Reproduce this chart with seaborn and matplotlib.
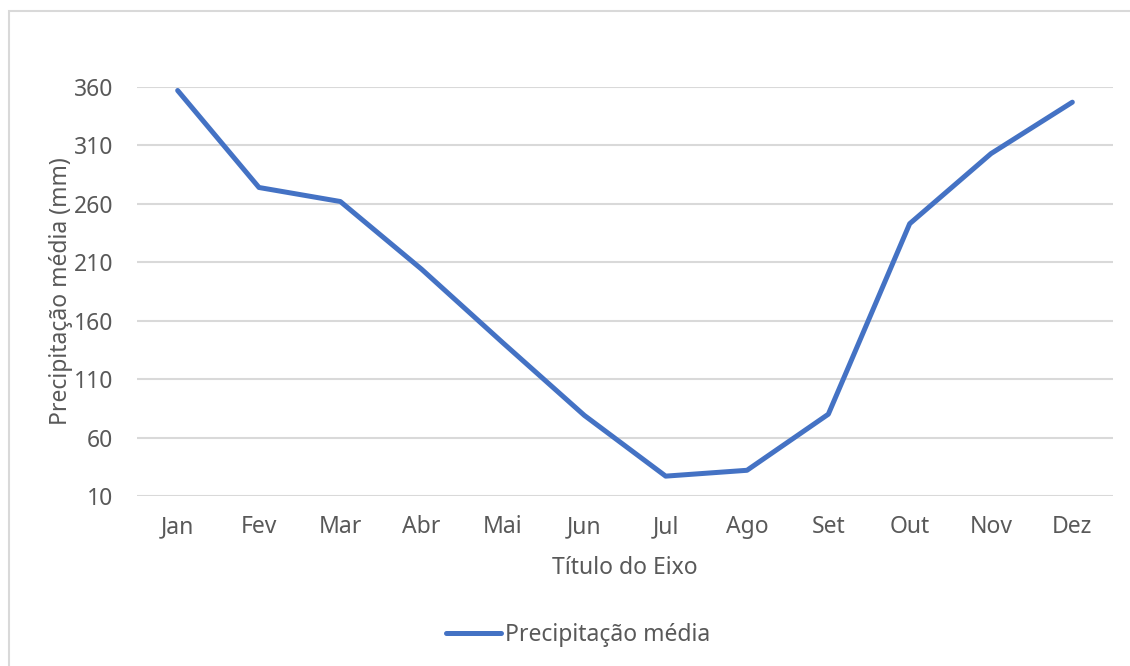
import matplotlib
matplotlib.use("Agg")
import matplotlib.pyplot as plt
import seaborn as sns
import pandas as pd
from matplotlib.patches import Rectangle

# Monthly mean precipitation (mm)
meses = ["Jan", "Fev", "Mar", "Abr", "Mai", "Jun", "Jul", "Ago", "Set", "Out", "Nov", "Dez"]
precipitacao = [357, 274, 262, 204, 141, 79, 27, 32, 80, 243, 303, 347]
yticks = [10, 60, 110, 160, 210, 260, 310, 360]

serie = "Precipitação média"
df = pd.DataFrame({"Mês": meses, "Precipitação": precipitacao, "Série": serie})

sns.set_theme(style="white")
plt.rcParams["font.family"] = ["Noto Sans", "DejaVu Sans"]

text_color = "#595959"
grid_color = "#d9d9d9"
line_color = "#4472C4"
fs = 16.5

fig = plt.figure(figsize=(11.3, 6.66), dpi=100)
ax = fig.add_axes([137 / 1130, 1 - 496 / 666, (1113 - 137) / 1130, (496 - 87) / 666])

sns.lineplot(data=df, x="Mês", y="Precipitação", hue="Série", palette=[line_color],
             sort=False, linewidth=3.6, ax=ax, solid_capstyle="round")

ax.set_xlim(-0.5, len(meses) - 0.5)
ax.set_ylim(yticks[0], yticks[-1])
ax.set_yticks(yticks)
ax.set_yticklabels([str(v) for v in yticks])
ax.yaxis.grid(True, color=grid_color, linewidth=1.5)
ax.set_axisbelow(True)
for s in ax.spines.values():
    s.set_visible(False)
ax.tick_params(axis="both", length=0, labelsize=fs, labelcolor=text_color)
ax.tick_params(axis="y", pad=17)
ax.tick_params(axis="x", pad=14)

ax.set_xlabel("Título do Eixo", fontsize=fs, color=text_color, labelpad=12)
ax.set_ylabel("Precipitação média (mm)", fontsize=fs, color=text_color)
ax.yaxis.set_label_coords((73 - 137) / (1113 - 137), 0.5)

leg = ax.legend(loc="center", bbox_to_anchor=(578 / 1130, 1 - 635 / 666),
                bbox_transform=fig.transFigure, frameon=False, fontsize=fs,
                handlelength=2.4, handletextpad=0.15)
for t in leg.get_texts():
    t.set_color(text_color)
for h in leg.get_lines():
    h.set_linewidth(3.6)
    h.set_solid_capstyle("round")

# Chart area border
fig.patches.append(Rectangle((9 / 1130, -0.1), 1.2, 1 - 11 / 666 + 0.1,
                             transform=fig.transFigure, fill=False,
                             edgecolor=grid_color, linewidth=1.5))

fig.savefig("out.png", dpi=100)
